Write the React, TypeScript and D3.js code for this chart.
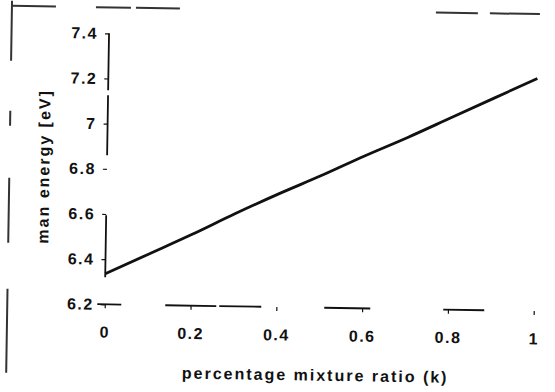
import React, { useRef, useEffect } from 'react'
import * as d3 from 'd3'

// mixture ratio k and the mean energy
const ratio = [0, 0.1, 0.2, 0.3, 0.4, 0.5, 0.6, 0.7, 0.8, 0.9, 1]
const energy = [6.335, 6.425, 6.515, 6.61, 6.7, 6.785, 6.875, 6.96, 7.05, 7.14, 7.23]
const xTicks = [0, 0.2, 0.4, 0.6, 0.8, 1]
const yTicks = [6.2, 6.4, 6.6, 6.8, 7, 7.2, 7.4]
const xTickLabels = ['0', '0.2', '0.4', '0.6', '0.8', '1']
const yTickLabels = ['6.2', '6.4', '6.6', '6.8', '7', '7.2', '7.4']
const xTitle = 'percentage mixture ratio (k)'
const yTitle = 'man energy [eV]'

const App = () => {
  const svgRef = useRef<SVGSVGElement>(null)

  const width = 555
  const height = 392
  const font = '"Liberation Sans", Arial, sans-serif'
  const ink = '#111'

  useEffect(() => {
    const x = d3.scaleLinear().domain([0, 1]).range([106.5, 535.5])
    const y = d3.scaleLinear().domain([6.2, 7.4]).range([307, 36])

    const svg = d3.select(svgRef.current)
    svg.selectAll('*').remove()
    svg.attr('viewBox', `0 0 ${width} ${height}`)

    // the scan sits slightly tilted
    const g = svg.append('g').attr('transform', 'rotate(0.9, 277, 196)')

    // outer frame, broken like the scan
    g.append('line')
      .attr('x1', 9).attr('x2', 540).attr('y1', 10).attr('y2', 10)
      .attr('stroke', '#333').attr('stroke-width', 2)
      .attr('stroke-dasharray', '44 40 35 5 44 256 42 12 50 1000')
    g.append('line')
      .attr('x1', 9).attr('x2', 9).attr('y1', 5).attr('y2', 390)
      .attr('stroke', '#333').attr('stroke-width', 2)
      .attr('stroke-dasharray', '60 50 15 52 65 46 84 1000')

    // y axis
    const yAxis = g.append('g')
      .attr('transform', `translate(${x(0)},0)`)
      .call(d3.axisLeft(y).tickValues(yTicks).tickSize(4).tickPadding(7)
        .tickFormat((d, i) => yTickLabels[i]))
    yAxis.select('.domain').remove()
    yAxis.append('line')
      .attr('x1', 0).attr('x2', 0).attr('y1', y(7.4)).attr('y2', y(6.2))
      .attr('stroke', ink).attr('stroke-width', 1.8)
      .attr('stroke-dasharray', '57 5 60 60 62 1000')

    // x axis
    const xAxis = g.append('g')
      .attr('transform', `translate(0,${y(6.2)})`)
      .call(d3.axisBottom(x).tickValues(xTicks).tickSize(4).tickPadding(18)
        .tickFormat((d, i) => xTickLabels[i]))
    xAxis.select('.domain').remove()
    xAxis.append('line')
      .attr('x1', 99).attr('x2', 540).attr('y1', 0).attr('y2', 0)
      .attr('stroke', ink).attr('stroke-width', 1.8)
      .attr('stroke-dasharray', '24 44 51 3 42 63 46 73 41 1000')

    g.selectAll('.tick line').attr('stroke', ink).attr('stroke-width', 1.2)
    g.selectAll('.tick text')
      .attr('fill', ink)
      .attr('font-family', font)
      .attr('font-size', 16)
      .attr('font-weight', 'bold')
      .attr('letter-spacing', 1.5)

    // data line
    const line = d3.line<number>()
      .x((d, i) => x(ratio[i]))
      .y(d => y(d))
      .curve(d3.curveMonotoneX)
    g.append('path')
      .datum(energy)
      .attr('fill', 'none')
      .attr('stroke', ink)
      .attr('stroke-width', 2.8)
      .attr('stroke-linejoin', 'round')
      .attr('d', line)

    // titles
    g.append('text')
      .attr('x', 318).attr('y', 380)
      .attr('text-anchor', 'middle')
      .attr('font-family', font).attr('font-size', 16).attr('font-weight', 'bold')
      .attr('letter-spacing', 2).attr('fill', ink)
      .text(xTitle)
    g.append('text')
      .attr('transform', 'translate(49,170) rotate(-90)')
      .attr('text-anchor', 'middle')
      .attr('font-family', font).attr('font-size', 16).attr('font-weight', 'bold')
      .attr('letter-spacing', 2).attr('fill', ink)
      .text(yTitle)
  }, [])

  return (
    <svg
      ref={svgRef}
      width={width}
      height={height}
      style={{ position: 'absolute', left: 0, top: 0, background: '#fff' }}
    />
  )
}

export default App
